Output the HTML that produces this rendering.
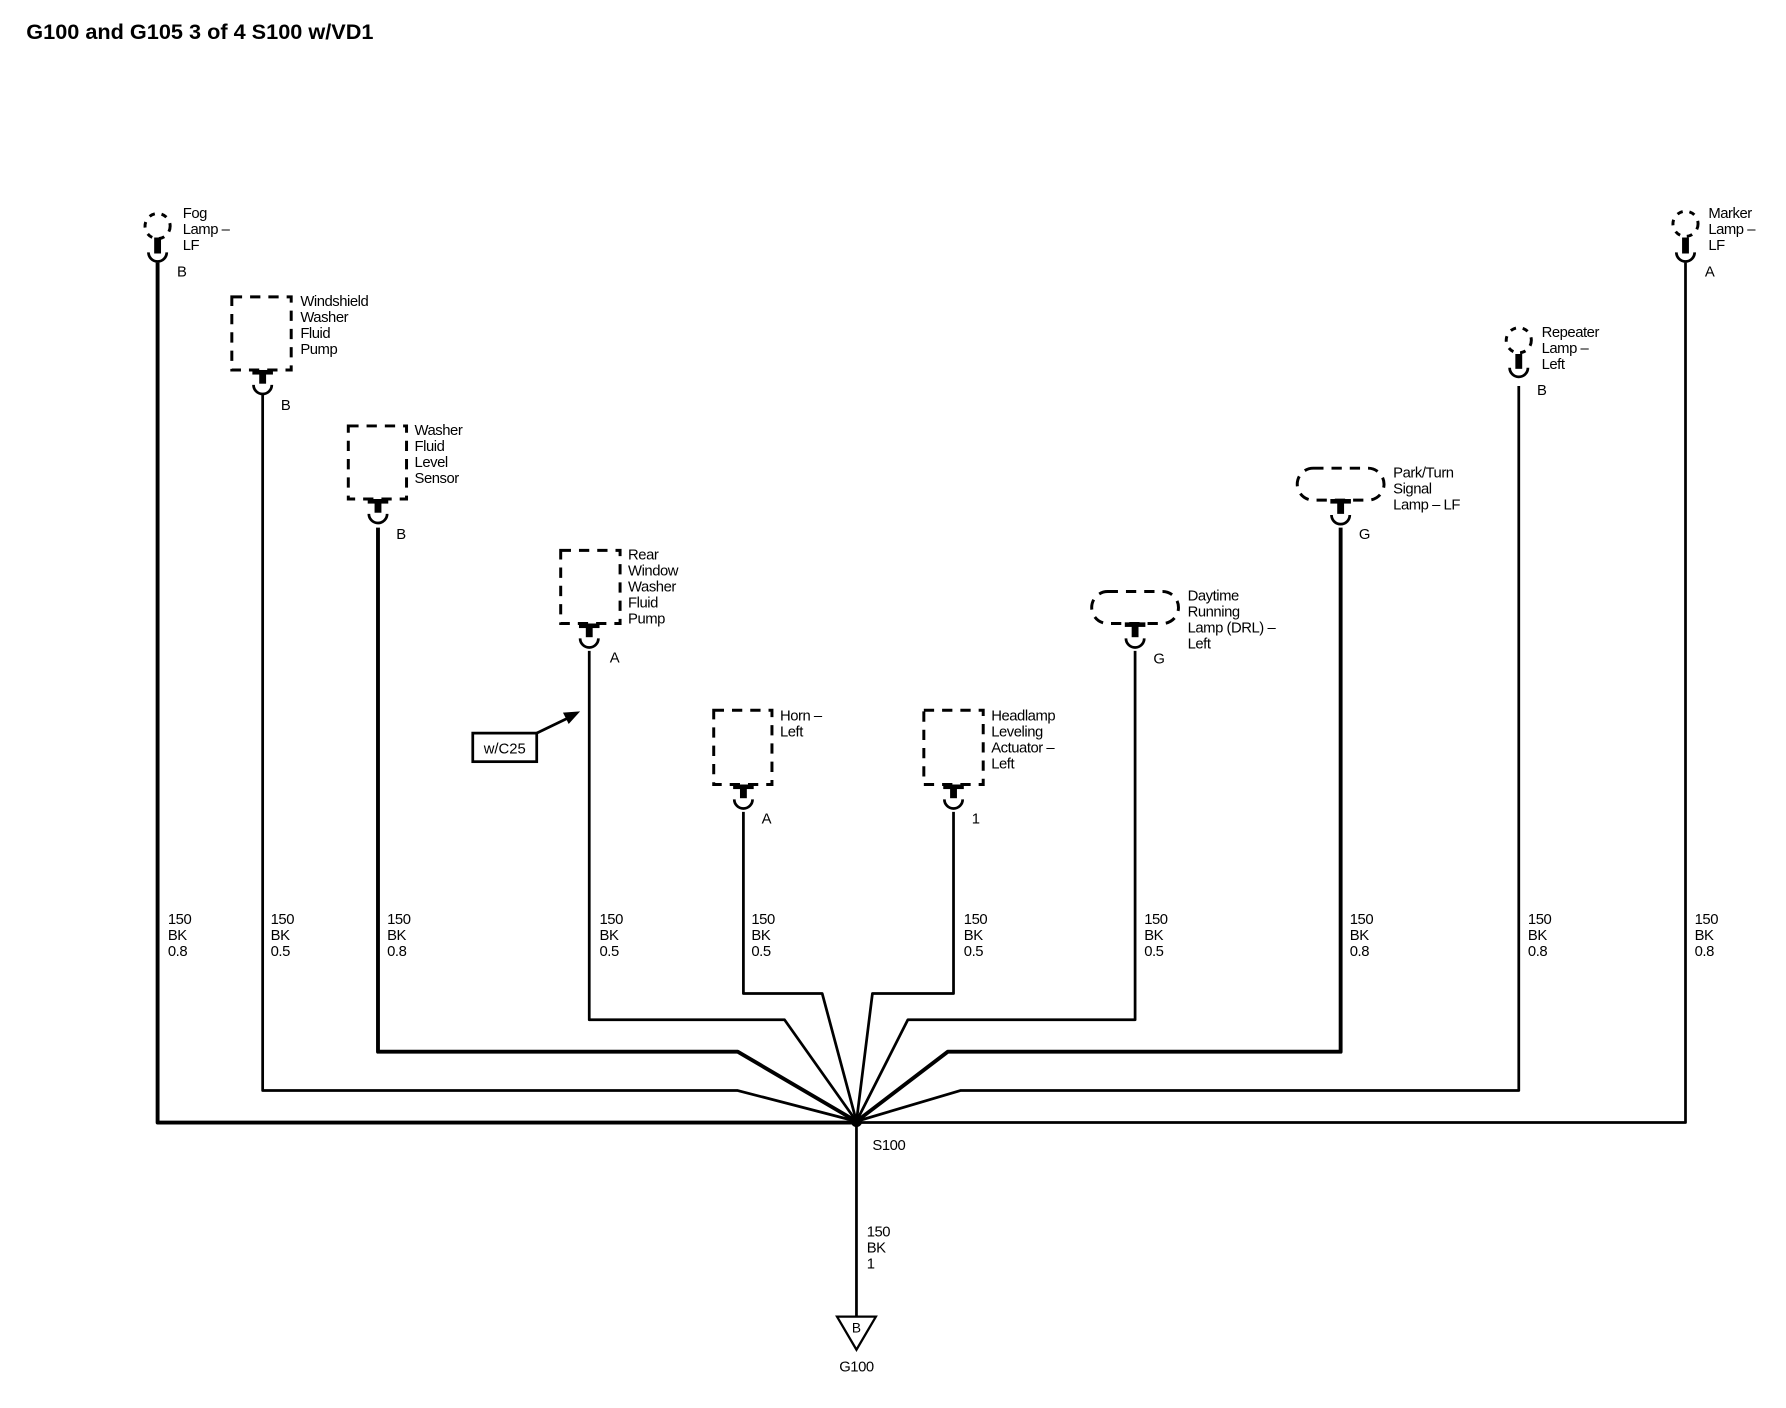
<!DOCTYPE html>
<html><head><meta charset="utf-8"><style>
html,body{margin:0;padding:0;background:#fff}
svg{display:block}
text{font-family:"Liberation Sans",Arial,sans-serif;fill:#000}
.l{font-size:13px;letter-spacing:-0.4px}
.w{stroke:#000;stroke-width:2.4;fill:none}
.t{stroke:#000;stroke-width:3.4;fill:none}
.d{stroke:#000;stroke-width:2.6;fill:none;stroke-dasharray:9 7}
.dc{stroke:#000;stroke-width:2.6;fill:none;stroke-dasharray:5 6}
</style></head><body>
<svg width="1786" height="1408" viewBox="0 0 1564 1233" xmlns="http://www.w3.org/2000/svg">
<text x="23" y="34" style="font-size:19px;font-weight:bold">G100 and G105 3 of 4 S100 w/VD1</text>

<!-- trunk lines -->
<g stroke-linejoin="round">
<polyline class="t" points="138,230 138,983 750,983"/>
<polyline class="w" points="750,983 1476,983 1476,230"/>
<polyline class="w" points="230,345 230,955 646,955 750,982 841,955 1330,955 1330,338"/>
<polyline class="t" points="331,462 331,921 646,921 750,982"/>
<polyline class="t" points="750,982 830,921 1174,921 1174,462"/>
<polyline class="w" points="516,570 516,893 687,893 750,982 795,893 994,893 994,570"/>
<polyline class="w" points="651,711 651,870 720,870 750,982 764,870 835,870 835,711"/>
<line class="w" x1="750" y1="982" x2="750" y2="1153"/>
</g>
<circle cx="750" cy="982" r="5" fill="#000"/>

<!-- connectors: stub + cup -->
<g fill="#000">
<rect x="135" y="208" width="6" height="14"/>
<rect x="227" y="324" width="6" height="12"/><rect x="221" y="324" width="18" height="4"/>
<rect x="328" y="437" width="6" height="12"/><rect x="322" y="437" width="18" height="4"/>
<rect x="513" y="546" width="6" height="12"/><rect x="507" y="546" width="18" height="4"/>
<rect x="648" y="687" width="6" height="12"/><rect x="642" y="687" width="18" height="4"/>
<rect x="832" y="687" width="6" height="12"/><rect x="826" y="687" width="18" height="4"/>
<rect x="991" y="546" width="6" height="12"/><rect x="985" y="545" width="18" height="4"/>
<rect x="1171" y="438" width="6" height="12"/><rect x="1165" y="437" width="18" height="4"/>
<rect x="1327" y="310" width="6" height="13"/>
<rect x="1473" y="208" width="6" height="14"/>
</g>
<g class="w">
<path d="M130,221 A8,8 0 0 0 146,221"/>
<path d="M222,337 A8,8 0 0 0 238,337"/>
<path d="M323,450 A8,8 0 0 0 339,450"/>
<path d="M508,559 A8,8 0 0 0 524,559"/>
<path d="M643,700 A8,8 0 0 0 659,700"/>
<path d="M827,700 A8,8 0 0 0 843,700"/>
<path d="M986,559 A8,8 0 0 0 1002,559"/>
<path d="M1166,451 A8,8 0 0 0 1182,451"/>
<path d="M1322,322 A8,8 0 0 0 1338,322"/>
<path d="M1468,221 A8,8 0 0 0 1484,221"/>
</g>

<!-- components -->
<circle class="dc" cx="138" cy="198" r="11"/>
<circle class="dc" cx="1330" cy="298" r="11"/>
<circle class="dc" cx="1476" cy="196" r="11"/>
<rect class="d" x="203" y="260" width="52" height="64"/>
<rect class="d" x="305" y="373" width="51" height="64"/>
<rect class="d" x="491" y="482" width="52" height="64"/>
<rect class="d" x="625" y="622" width="51" height="65"/>
<rect class="d" x="809" y="622" width="52" height="65"/>
<rect class="d" x="956" y="518" width="76" height="28" rx="14"/>
<rect class="d" x="1136" y="410" width="76" height="28" rx="14"/>

<!-- w/C25 -->
<rect x="414" y="642" width="56" height="25" fill="none" stroke="#000" stroke-width="2.4"/>
<text x="442" y="660" text-anchor="middle" style="font-size:13px">w/C25</text>
<line x1="470" y1="642" x2="497" y2="629" stroke="#000" stroke-width="2.4"/>
<polygon points="508,623 493,624 498,634" fill="#000"/>

<!-- ground -->
<polygon points="733,1153 767,1153 750,1182" fill="#fff" stroke="#000" stroke-width="2"/>
<text x="750" y="1167" text-anchor="middle" style="font-size:12px">B</text>
<text x="750" y="1201" text-anchor="middle" class="l">G100</text>
<text x="764" y="1007" class="l">S100</text>
<text class="l"><tspan x="759" y="1083">150</tspan><tspan x="759" y="1097">BK</tspan><tspan x="759" y="1111">1</tspan></text>

<!-- component labels -->
<g class="l">
<text><tspan x="160" y="191">Fog</tspan><tspan x="160" y="205">Lamp –</tspan><tspan x="160" y="219">LF</tspan></text>
<text x="155" y="242">B</text>
<text><tspan x="263" y="268">Windshield</tspan><tspan x="263" y="282">Washer</tspan><tspan x="263" y="296">Fluid</tspan><tspan x="263" y="310">Pump</tspan></text>
<text x="246" y="359">B</text>
<text><tspan x="363" y="381">Washer</tspan><tspan x="363" y="395">Fluid</tspan><tspan x="363" y="409">Level</tspan><tspan x="363" y="423">Sensor</tspan></text>
<text x="347" y="472">B</text>
<text><tspan x="550" y="490">Rear</tspan><tspan x="550" y="504">Window</tspan><tspan x="550" y="518">Washer</tspan><tspan x="550" y="532">Fluid</tspan><tspan x="550" y="546">Pump</tspan></text>
<text x="534" y="580">A</text>
<text><tspan x="683" y="631">Horn –</tspan><tspan x="683" y="645">Left</tspan></text>
<text x="667" y="721">A</text>
<text><tspan x="868" y="631">Headlamp</tspan><tspan x="868" y="645">Leveling</tspan><tspan x="868" y="659">Actuator –</tspan><tspan x="868" y="673">Left</tspan></text>
<text x="851" y="721">1</text>
<text><tspan x="1040" y="526">Daytime</tspan><tspan x="1040" y="540">Running</tspan><tspan x="1040" y="554">Lamp (DRL) –</tspan><tspan x="1040" y="568">Left</tspan></text>
<text x="1010" y="581">G</text>
<text><tspan x="1220" y="418">Park/Turn</tspan><tspan x="1220" y="432">Signal</tspan><tspan x="1220" y="446">Lamp – LF</tspan></text>
<text x="1190" y="472">G</text>
<text><tspan x="1350" y="295">Repeater</tspan><tspan x="1350" y="309">Lamp –</tspan><tspan x="1350" y="323">Left</tspan></text>
<text x="1346" y="346">B</text>
<text><tspan x="1496" y="191">Marker</tspan><tspan x="1496" y="205">Lamp –</tspan><tspan x="1496" y="219">LF</tspan></text>
<text x="1493" y="242">A</text>
</g>

<!-- wire labels -->
<g class="l">
<text><tspan x="147" y="809">150</tspan><tspan x="147" y="823">BK</tspan><tspan x="147" y="837">0.8</tspan></text>
<text><tspan x="237" y="809">150</tspan><tspan x="237" y="823">BK</tspan><tspan x="237" y="837">0.5</tspan></text>
<text><tspan x="339" y="809">150</tspan><tspan x="339" y="823">BK</tspan><tspan x="339" y="837">0.8</tspan></text>
<text><tspan x="525" y="809">150</tspan><tspan x="525" y="823">BK</tspan><tspan x="525" y="837">0.5</tspan></text>
<text><tspan x="658" y="809">150</tspan><tspan x="658" y="823">BK</tspan><tspan x="658" y="837">0.5</tspan></text>
<text><tspan x="844" y="809">150</tspan><tspan x="844" y="823">BK</tspan><tspan x="844" y="837">0.5</tspan></text>
<text><tspan x="1002" y="809">150</tspan><tspan x="1002" y="823">BK</tspan><tspan x="1002" y="837">0.5</tspan></text>
<text><tspan x="1182" y="809">150</tspan><tspan x="1182" y="823">BK</tspan><tspan x="1182" y="837">0.8</tspan></text>
<text><tspan x="1338" y="809">150</tspan><tspan x="1338" y="823">BK</tspan><tspan x="1338" y="837">0.8</tspan></text>
<text><tspan x="1484" y="809">150</tspan><tspan x="1484" y="823">BK</tspan><tspan x="1484" y="837">0.8</tspan></text>
</g>
</svg>
</body></html>
